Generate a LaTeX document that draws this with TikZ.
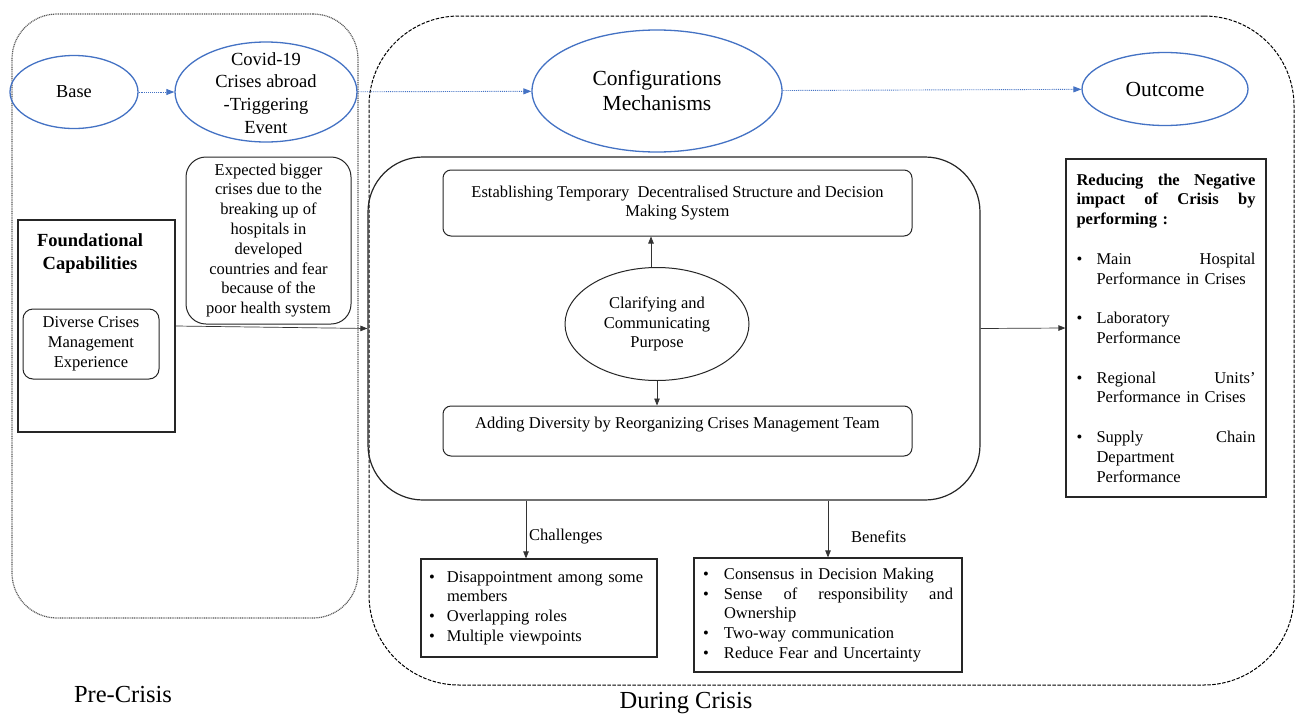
\documentclass[tikz,border=0pt]{standalone}
\usepackage{fontspec}
\setmainfont{Liberation Serif}
\usetikzlibrary{shapes.geometric,arrows.meta,calc}
\definecolor{blueline}{HTML}{4472C4}
\newcommand{\bulitem}[1][20pt]{\makebox[#1][l]{\textbullet}}
\newcommand{\hangitem}[1][20pt]{\hspace*{#1}}
\begin{document}
\begin{tikzpicture}[x=1pt,y=-1pt,
  ell/.style={ellipse, draw=blueline, line width=1.3pt, inner sep=0pt},
  bluearrow/.style={draw=blueline, densely dotted, line width=0.9pt, -{Triangle[length=8pt,width=6pt]}},
  blackarrow/.style={draw=black!80, line width=0.7pt, -{Triangle[length=7pt,width=5.5pt]}},
  rbox/.style={draw=black!85, line width=1pt, rounded corners=#1},
  rbox/.default=8pt,
  sqbox/.style={draw=black!85, line width=1.2pt},
  body/.style={font=\fontsize{16.5}{19.8}\selectfont}]
\fill[white] (0,0) rectangle (1301,718);
\useasboundingbox (0,0) rectangle (1301,718);
% containers
\node[draw=black!65, line width=1.2pt, dash pattern=on 1pt off 0.8pt, rounded corners=45pt,
      minimum width=346pt, minimum height=604pt, inner sep=0pt] (pre) at (185,316) {};
\node[draw=black, line width=1pt, dash pattern=on 3.5pt off 1.5pt, rounded corners=90pt,
      minimum width=925pt, minimum height=669pt, inner sep=0pt] (during) at (831.5,350.5) {};
% top ellipses
\node[ell, minimum width=128pt, minimum height=73pt, font=\fontsize{18.3}{22}\selectfont] (base) at (74,92) {Base};
\node[ell, minimum width=182pt, minimum height=100pt] (covid) at (266,92) {};
\node[font=\fontsize{18.5}{22.8}\selectfont, align=center, inner sep=0pt] (covidtext) at (266,93) {Covid-19\\Crises abroad\\-Triggering\\Event};
\node[ell, minimum width=250pt, minimum height=122pt, font=\fontsize{21.5}{25}\selectfont, align=center] (config) at (657,91) {Configurations\\Mechanisms};
\node[ell, minimum width=166pt, minimum height=73pt, font=\fontsize{21.5}{25}\selectfont] (outcome) at (1165,89) {Outcome};
% pre-crisis content
\node[rbox=20pt, body, align=center, minimum width=165pt, minimum height=167pt, inner sep=2pt] (expected) at (268.5,240.5)
  {Expected bigger\\crises due to the\\breaking up of\\hospitals in\\developed\\countries and fear\\because of the\\poor health system};
\node[sqbox, minimum width=157pt, minimum height=212pt, inner sep=0pt] (found) at (96.5,326) {};
\node[font=\bfseries\fontsize{18.5}{23}\selectfont, align=center, inner sep=0pt] (foundtitle) at (90,254) {Foundational\\Capabilities};
\node[rbox=10pt, body, align=center, minimum width=136pt, minimum height=70pt] (diverse) at (91,344) {Diverse Crises\\Management\\Experience};
% mechanisms
\node[draw=black!85, line width=1.2pt, rounded corners=55pt, minimum width=612pt, minimum height=343pt, inner sep=0pt] (mech) at (674,328.5) {};
\node[rbox, body, align=center, minimum width=469pt, minimum height=66pt] (estab) at (677.5,203)
  {Establishing Temporary\ \ Decentralised Structure and Decision\\Making System};
\node[ellipse, draw=black!85, line width=1pt, minimum width=184pt, minimum height=113pt, inner sep=0pt, body, align=center] (clar) at (657,324)
  {Clarifying and\\Communicating\\Purpose};
\node[rbox, body, minimum width=469pt, minimum height=50pt, text height=17pt, text depth=23pt, inner ysep=5pt, inner xsep=0pt] (adding) at (677.5,431)
  {Adding Diversity by Reorganizing Crises Management Team};
% outcome box
\node[sqbox, minimum width=200pt, minimum height=338pt, text width=179pt, align=left, body, inner sep=0pt] (reduce) at (1166,328)
  {\textbf{Reducing\hfill the\hfill Negative}\\
   \textbf{impact\hfill of\hfill Crisis\hfill by}\\
   \textbf{performing :}\\[19.8pt]
   \bulitem Main\hfill Hospital\\
   \hangitem Performance in Crises\\[19.8pt]
   \bulitem Laboratory\\
   \hangitem Performance\\[19.8pt]
   \bulitem Regional\hfill Units’\\
   \hangitem Performance in Crises\\[19.8pt]
   \bulitem Supply\hfill Chain\\
   \hangitem Department\\
   \hangitem Performance};
% challenges and benefits
\node[sqbox, minimum width=236pt, minimum height=98pt, text width=220pt, align=left, body, inner sep=0pt] (chal) at (539,608)
  {\bulitem[18pt]Disappointment among some\\
   \hangitem[18pt]members\\
   \bulitem[18pt]Overlapping roles\\
   \bulitem[18pt]Multiple viewpoints};
\node[sqbox, minimum width=268pt, minimum height=114pt, text width=250pt, align=left, body, inner sep=0pt] (ben) at (828,615)
  {\bulitem[21pt]Consensus in Decision Making\\
   \bulitem[21pt]Sense\hfill of\hfill responsibility\hfill and\\
   \hangitem[21pt]Ownership\\
   \bulitem[21pt]Two-way communication\\
   \bulitem[21pt]Reduce Fear and Uncertainty};
\node[body, anchor=west, inner sep=0pt] (challab) at (529,537) {Challenges};
\node[body, anchor=west, inner sep=0pt] (benlab) at (851,537) {Benefits};
% phase labels
\node[font=\fontsize{24.5}{28}\selectfont, inner sep=0pt] (prelab) at (123,694) {Pre-Crisis};
\node[font=\fontsize{24.5}{28}\selectfont, inner sep=0pt] (durlab) at (686,703) {During Crisis};
% connectors
\draw[bluearrow] (base) -- (covid);
\draw[bluearrow] (covid) -- (config);
\draw[bluearrow] (config) -- (outcome);
\draw[blackarrow] (found.east) -- (mech.west);
\draw[blackarrow] (mech.east) -- (reduce.west);
\coordinate (c1) at ($(clar.north)+(-6pt,0pt)$);
\draw[blackarrow] (c1) -- (c1 |- estab.south);
\draw[blackarrow] (clar.south) -- (clar.south |- adding.north);
\coordinate (c2) at ($(chal.north)+(-13pt,0pt)$);
\draw[blackarrow] (c2 |- mech.south) -- (c2);
\draw[blackarrow] (ben.north |- mech.south) -- (ben.north);
\end{tikzpicture}
\end{document}
